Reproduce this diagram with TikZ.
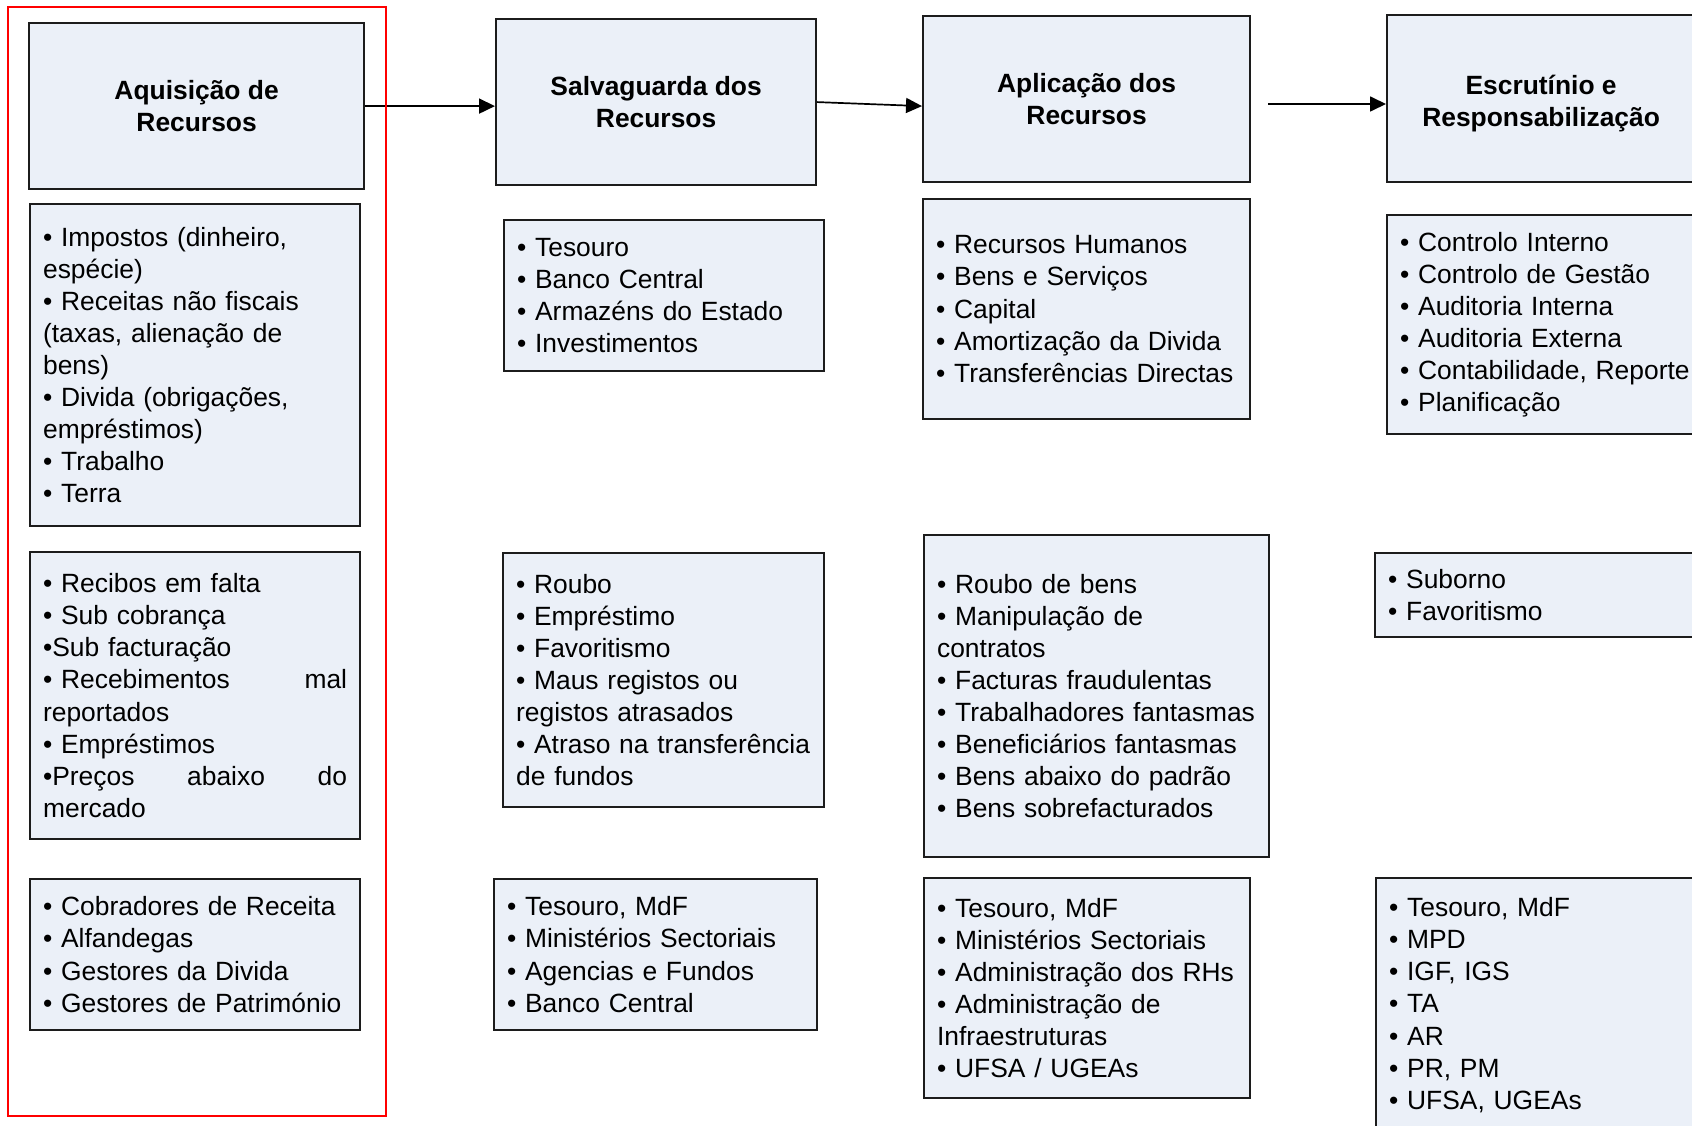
\documentclass[tikz,border=0pt]{standalone}
\usepackage{fontspec}
\setmainfont{Liberation Sans}
\usetikzlibrary{arrows.meta}
\definecolor{boxfill}{RGB}{235,240,248}
\definecolor{boxline}{RGB}{28,28,28}
\definecolor{frame}{RGB}{255,0,0}
\newcommand{\fsz}{\fontsize{26.4}{32.1}\selectfont}
\begin{document}
\begin{tikzpicture}[x=1pt,y=-1pt,
  cbox/.style={draw=boxline, line width=2.2pt, fill=boxfill, anchor=north west,
    inner xsep=13pt, inner ysep=0pt, align=left, font=\fsz},
  ttl/.style={draw=boxline, line width=2.2pt, fill=boxfill, anchor=north west,
    inner sep=0pt, align=center, font=\fsz\bfseries},
  arr/.style={draw=black, line width=1.7pt, -{Triangle[length=16pt,width=15pt]}}]
\useasboundingbox (0,0) rectangle (1692,1126);
\clip (0,0) rectangle (1692,1126);

% titles
\node[ttl, minimum width=335pt, minimum height=166pt] (T1) at (28,22) {Aquisição de\\Recursos};
\node[ttl, minimum width=320pt, minimum height=166pt] (T2) at (495,18) {Salvaguarda dos\\Recursos};
\node[ttl, minimum width=327pt, minimum height=166pt] (T3) at (922,15) {Aplicação dos\\Recursos};
\node[ttl, minimum width=308pt, minimum height=167pt] (T4) at (1386,14) {\rule{0pt}{30pt}Escrutínio e\\Responsabilização};

% column 1
\node[cbox, text width=304pt, minimum height=322pt] (A1) at (29,203)
 {• Impostos (dinheiro,\\ espécie)\\ • Receitas não fiscais\\ (taxas, alienação de\\ bens)\\ • Divida (obrigações,\\ empréstimos)\\ • Trabalho\\ • Terra};
\node[cbox, text width=304pt, minimum height=287pt] (A2) at (29,551)
 {• Recibos em falta\\ • Sub cobrança\\ •Sub facturação\\ \makebox[\linewidth][l]{• Recebimentos\hfill mal}\\ reportados\\ • Empréstimos\\ \makebox[\linewidth][l]{•Preços\hfill abaixo\hfill do}\\ mercado};
\node[cbox, text width=304pt, minimum height=151pt] (A3) at (29,878)
 {• Cobradores de Receita\\ • Alfandegas\\ • Gestores da Divida\\ \mbox{• Gestores de Património}};

% column 2
\node[cbox, text width=294pt, minimum height=151pt] (B1) at (503,219)
 {• Tesouro\\ • Banco Central\\ • Armazéns do Estado\\ • Investimentos};
\node[cbox, text width=295pt, minimum height=254pt] (B2) at (502,552)
 {• Roubo\\ • Empréstimo\\ • Favoritismo\\ • Maus registos ou\\ registos atrasados\\ \mbox{• Atraso na transferência}\\ de fundos};
\node[cbox, text width=297pt, minimum height=151pt] (B3) at (493,878)
 {• Tesouro, MdF\\ \mbox{• Ministérios Sectoriais}\\ • Agencias e Fundos\\ • Banco Central};

% column 3
\node[cbox, text width=301pt, minimum height=220pt] (C1) at (922,198)
 {• Recursos Humanos\\ • Bens e Serviços\\ • Capital\\ • Amortização da Divida\\ \mbox{• Transferências Directas}};
\node[cbox, text width=319pt, minimum height=322pt] (C2) at (923,534)
 {• Roubo de bens\\ • Manipulação de\\ contratos\\ • Facturas fraudulentas\\ \mbox{• Trabalhadores fantasmas}\\ \mbox{• Beneficiários fantasmas}\\ • Bens abaixo do padrão\\ • Bens sobrefacturados};
\node[cbox, text width=300pt, minimum height=220pt] (C3) at (923,877)
 {• Tesouro, MdF\\ \mbox{• Ministérios Sectoriais}\\ \mbox{• Administração dos RHs}\\ • Administração de\\ Infraestruturas\\ • UFSA / UGEAs};

% column 4
\node[cbox, text width=301pt, minimum height=219pt] (D1) at (1386,214)
 {• Controlo Interno\\ • Controlo de Gestão\\ • Auditoria Interna\\ • Auditoria Externa\\ \mbox{• Contabilidade, Reporte}\\ • Planificação};
\node[cbox, text width=321pt, minimum height=84pt] (D2) at (1374,552)
 {• Suborno\\ • Favoritismo};
\node[cbox, text width=321pt, minimum height=254pt] (D3) at (1375,877)
 {• Tesouro, MdF\\ • MPD\\ • IGF, IGS\\ • TA\\ • AR\\ • PR, PM\\ • UFSA, UGEAs};

% arrows
\draw[arr] (T1.east) -- (T1.east -| T2.west);
\draw[arr] (T2.east) -- (T3.west |- T1.east);
\coordinate (a3s) at (1268,104);
\draw[arr] (a3s) -- (a3s -| T4.west);

% red frame round the first column
\node[draw=frame, line width=2pt, anchor=north west, minimum width=378pt,
  minimum height=1109pt, inner sep=0pt] (grp) at (7,6) {};
\end{tikzpicture}
\end{document}
